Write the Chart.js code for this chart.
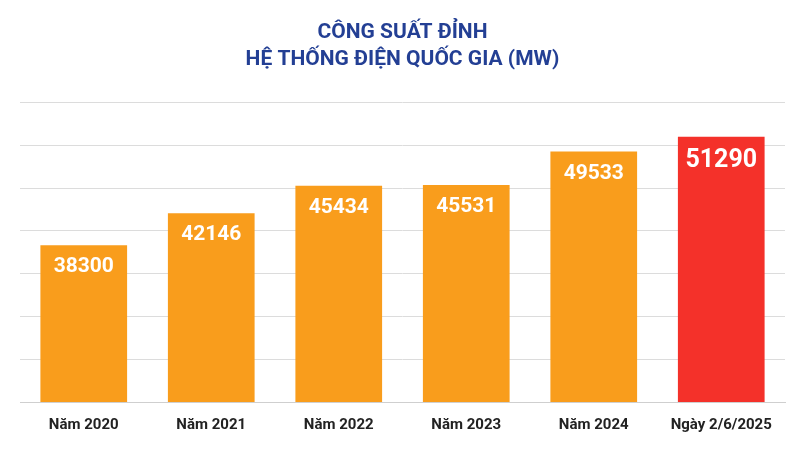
<!DOCTYPE html>
<html lang="vi">
<head>
<meta charset="UTF-8">
<title>Công suất đỉnh</title>
<script src="https://cdn.jsdelivr.net/npm/chart.js"></script>
<style>
  html, body { margin: 0; padding: 0; background: #fff; }
  #wrap { width: 800px; height: 450px; }
</style>
</head>
<body>
<div id="wrap"><canvas id="peakChart" width="800" height="450"></canvas></div>
<script>
// data
const categories = ['Năm 2020', 'Năm 2021', 'Năm 2022', 'Năm 2023', 'Năm 2024', 'Ngày 2/6/2025'];
const peakMW = [38300, 42146, 45434, 45531, 49533, 51290];
const barColors = ['#f99d1c', '#f99d1c', '#f99d1c', '#f99d1c', '#f99d1c', '#f4312a'];
const gridValues = [19500, 24630, 29760, 34890, 40020, 45150, 50280, 55410];

// value labels inside the top of each bar
const barLabels = {
  id: 'barLabels',
  afterDatasetsDraw(chart) {
    const ctx = chart.ctx;
    chart.getDatasetMeta(0).data.forEach((bar, i) => {
      const last = i === peakMW.length - 1;
      ctx.save();
      ctx.fillStyle = '#fff';
      ctx.font = (last ? 'bold 25px' : 'bold 21px') + ' Roboto, sans-serif';
      ctx.textAlign = 'center';
      ctx.textBaseline = 'middle';
      ctx.fillText(peakMW[i], bar.x, bar.y + (last ? 24 : 22));
      ctx.restore();
    });
  }
};

new Chart(document.getElementById('peakChart').getContext('2d'), {
  type: 'bar',
  data: {
    labels: categories,
    datasets: [{
      data: peakMW,
      backgroundColor: barColors,
      barPercentage: 0.68,
      categoryPercentage: 1
    }]
  },
  options: {
    responsive: false,
    animation: false,
    layout: { padding: { left: 20, right: 15, top: 0, bottom: 10 } },
    plugins: {
      legend: { display: false },
      tooltip: { enabled: false },
      title: {
        display: true,
        text: ['CÔNG SUẤT ĐỈNH', 'HỆ THỐNG ĐIỆN QUỐC GIA (MW)'],
        color: '#233f94',
        font: { family: 'Roboto, sans-serif', size: 21, weight: 'bold', lineHeight: 1.25 },
        padding: { top: 20, bottom: 30 }
      }
    },
    scales: {
      x: {
        grid: { display: false },
        border: { display: true, color: '#cfcfcf' },
        ticks: { color: '#222', font: { family: 'Roboto, sans-serif', size: 15, weight: 'bold' }, padding: 6 }
      },
      y: {
        min: gridValues[0],
        max: gridValues[gridValues.length - 1],
        afterBuildTicks(axis) { axis.ticks = gridValues.map(v => ({ value: v })); },
        ticks: { display: false },
        border: { display: false },
        grid: { color: '#dcdcdc', drawTicks: false }
      }
    }
  },
  plugins: [barLabels]
});
</script>
</body>
</html>
